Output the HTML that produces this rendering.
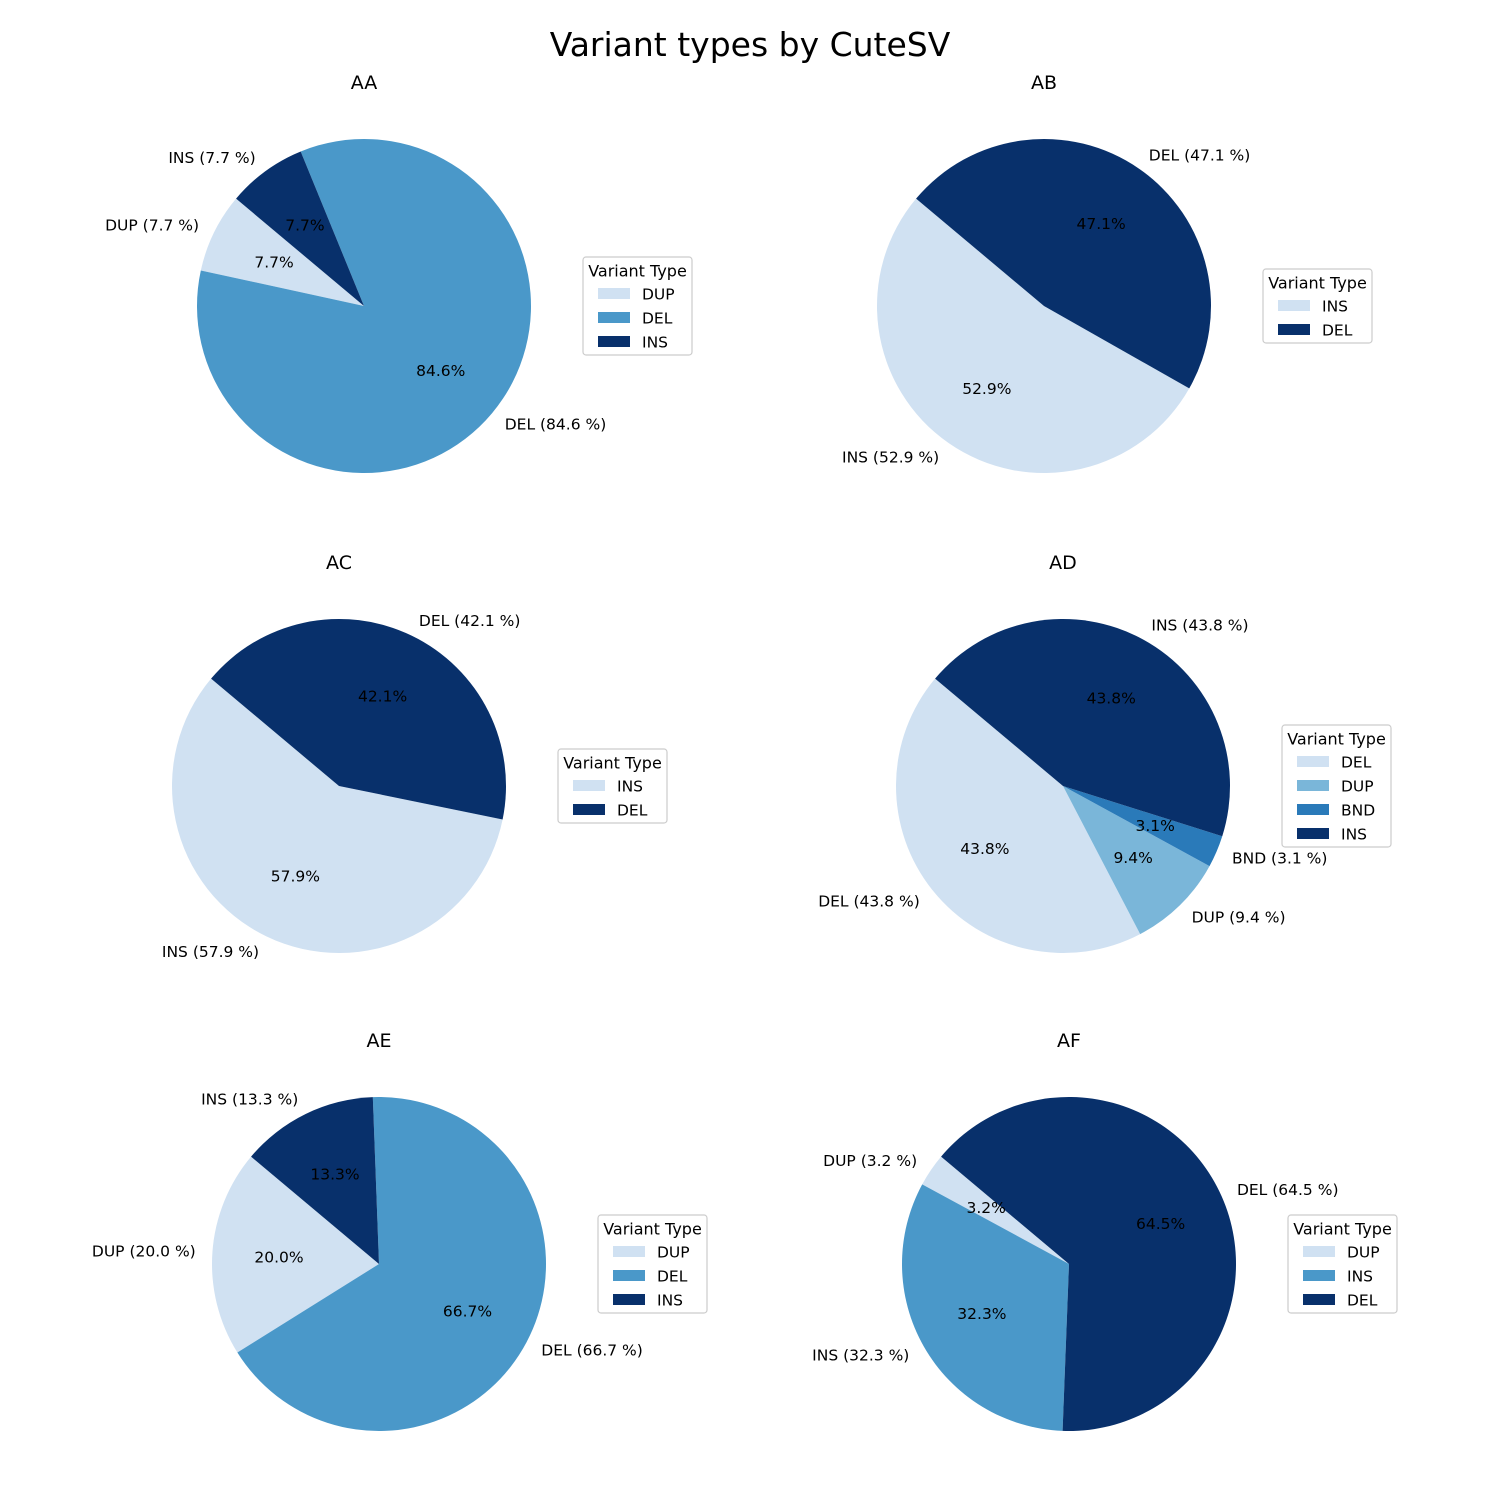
<!DOCTYPE html>
<html><head><meta charset="utf-8"><style>
body{margin:0;background:#fff}
svg{display:block;font-family:"DejaVu Sans","Liberation Sans",sans-serif}
</style></head><body>
<svg id="fig" width="1500" height="1500" viewBox="0 0 1500 1500">
<text x="750" y="56" font-size="33" text-anchor="middle">Variant types by CuteSV</text>
</svg>
<script>
const sampleNames = ["AA","AB","AC","AD","AE","AF"];
const catsAA = ["DUP","DEL","INS"];
const valsAA = [7.7,84.6,7.7];
const catsAB = ["INS","DEL"];
const valsAB = [52.9,47.1];
const catsAC = ["INS","DEL"];
const valsAC = [57.9,42.1];
const catsAD = ["DEL","DUP","BND","INS"];
const valsAD = [43.8,9.4,3.1,43.8];
const catsAE = ["DUP","DEL","INS"];
const valsAE = [20.0,66.7,13.3];
const catsAF = ["DUP","INS","DEL"];
const valsAF = [3.2,32.3,64.5];
const allCats = [catsAA,catsAB,catsAC,catsAD,catsAE,catsAF];
const allVals = [valsAA,valsAB,valsAC,valsAD,valsAE,valsAF];

const centers = [[364,306],[1044,306],[339,786],[1063,786],[379,1264],[1069,1264]];
const R = 167, START = 140;
const palettes = {2:["#d0e1f2","#08306b"],3:["#d0e1f2","#4a98c9","#08306b"],4:["#d0e1f2","#7ab6d9","#2a7ab9","#08306b"]};
const NS = "http://www.w3.org/2000/svg";
const svg = document.getElementById("fig");
function mk(tag, attrs, parent){const e=document.createElementNS(NS,tag);for(const k in attrs)e.setAttribute(k,attrs[k]);(parent||svg).appendChild(e);return e;}
function pt(cx,cy,r,deg){const a=deg*Math.PI/180;return [cx+r*Math.cos(a),cy-r*Math.sin(a)];}

sampleNames.forEach((name,i)=>{
  const [cx,cy]=centers[i];
  const cats=allCats[i], vals=allVals[i];
  const cols=palettes[cats.length];
  const total=vals.reduce((a,b)=>a+b,0);
  const g=mk("g",{});
  
  
  const t=mk("text",{x:cx,y:cy-217,"font-size":19,"text-anchor":"middle"},g);
  t.textContent=name;
  
  
  let a=START;
  vals.forEach((v,j)=>{
    const sweep=v/total*360;
    const a2=a+sweep;
    const p1=pt(cx,cy,R,a), p2=pt(cx,cy,R,a2);
    const large=sweep>180?1:0;
    const w=mk("path",{d:`M${cx},${cy}L${p1[0]},${p1[1]}A${R},${R} 0 ${large} 0 ${p2[0]},${p2[1]}Z`,fill:cols[j]},g);
    
    
    a=a2;
  });
  a=START;
  vals.forEach((v,j)=>{
    const sweep=v/total*360, mid=a+sweep/2; a+=sweep;
    const lp=pt(cx,cy,R*1.1,mid);
    const anchor=lp[0]>=cx?"start":"end";
    const l=mk("text",{x:lp[0],y:lp[1]+5.5,"font-size":15.5,"text-anchor":anchor},g);
    l.textContent=cats[j]+" ("+v.toFixed(1)+" %)";
    
    
    const pp=pt(cx,cy,R*0.6,mid);
    const p=mk("text",{x:pp[0],y:pp[1]+5.5,"font-size":15.5,"text-anchor":"middle"},g);
    p.textContent=(v/total*100).toFixed(1)+"%";
    
    
  });
  const h=26+24*cats.length, lx=cx+219, ly=cy-h/2;
  const lg=mk("g",{},g);
  
  
  mk("rect",{x:lx,y:ly,width:109,height:h,rx:3,fill:"#fff",stroke:"#cccccc","stroke-width":1.2},lg);
  const lt=mk("text",{x:lx+54.5,y:ly+19.5,"font-size":16,"text-anchor":"middle"},lg);
  lt.textContent="Variant Type";
  
  
  cats.forEach((c,j)=>{
    const ey=ly+37+24*j;
    const r=mk("rect",{x:lx+15,y:ey-6,width:32,height:11,fill:cols[j]},lg);
    
    
    const et=mk("text",{x:lx+59,y:ey+5.5,"font-size":15.5},lg);
    et.textContent=c;
    
    
  });
});
</script>
</body></html>
